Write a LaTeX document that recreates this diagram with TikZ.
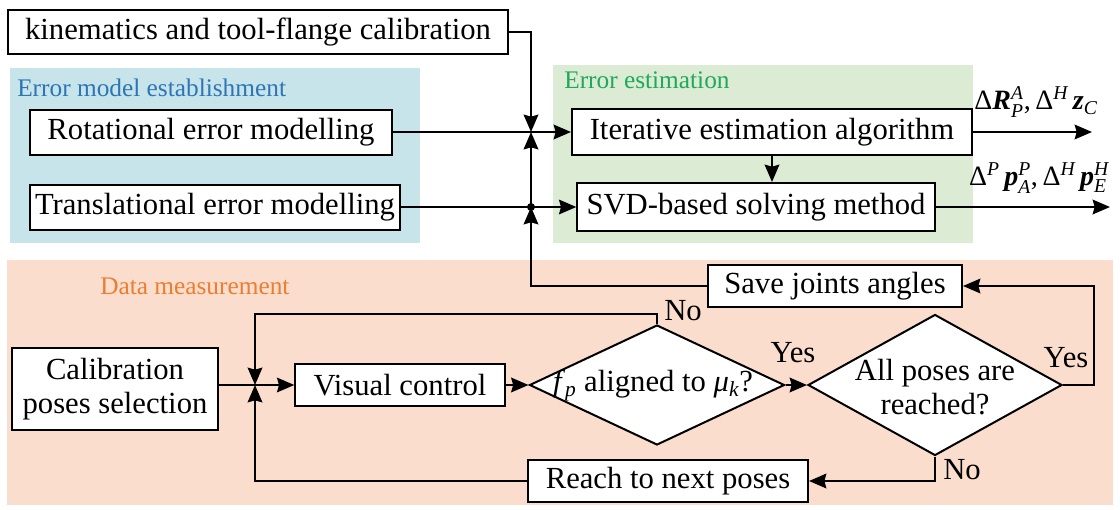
\documentclass[tikz,border=0pt]{standalone}
\usepackage{amsmath}
\usepackage{fontspec}
\setmainfont{Liberation Serif}
\newfontfamily\tms{Liberation Serif}
\usetikzlibrary{shapes.geometric,arrows.meta}
\definecolor{bluebg}{RGB}{198,228,233}
\definecolor{greenbg}{RGB}{220,235,212}
\definecolor{peachbg}{RGB}{250,221,204}
\definecolor{bluetxt}{RGB}{46,117,182}
\definecolor{greentxt}{RGB}{30,170,90}
\definecolor{orangetxt}{RGB}{237,125,49}
\begin{document}
\begin{tikzpicture}[x=0.75pt,y=-0.75pt,
  box/.style={draw, line width=1.5pt, fill=white, inner sep=0pt, align=center, font=\tms\fontsize{23}{25.5}\selectfont},
  dia/.style={draw, diamond, line width=1.5pt, fill=white, inner sep=0pt},
  txt/.style={font=\tms\fontsize{23}{25.5}\selectfont, inner sep=0pt, align=center},
  grp/.style={font=\tms\fontsize{19}{22}\selectfont, inner sep=0pt, anchor=west},
  mlab/.style={font=\tms\fontsize{21}{24}\selectfont, inner sep=0pt},
  conn/.style={line width=1.5pt},
  arr/.style={conn, -{Stealth[length=13pt,width=11pt,inset=1.5pt]}},
]
\useasboundingbox (0,0) rectangle (1120,510);
% group backgrounds
\fill[bluebg] (10,68) rectangle (420,243);
\fill[greenbg] (553,65) rectangle (973,243);
\fill[peachbg] (7,260) rectangle (1113,505);
\node[grp, text=bluetxt] (gl1) at (17,88) {Error model establishment};
\node[grp, text=greentxt] (gl2) at (564,80) {Error estimation};
\node[grp, text=orangetxt] (gl3) at (100,286) {Data measurement};

% boxes
\node[box, minimum width=375pt, minimum height=33pt] (kin) at (258,32) {kinematics and tool-flange calibration};
\node[box, minimum width=271.5pt, minimum height=33.75pt] (rot) at (211,132) {Rotational error modelling};
\node[box, minimum width=277.5pt, minimum height=33.75pt] (trans) at (215,207) {Translational error modelling};
\node[box, minimum width=300pt, minimum height=35pt] (iter) at (772,132) {Iterative estimation algorithm};
\node[box, minimum width=268pt, minimum height=36pt] (svd) at (756,207) {SVD-based solving method};
\node[box, minimum width=190.5pt, minimum height=31.5pt] (save) at (835,286) {Save joints angles};
\node[box, minimum width=154pt, minimum height=61.5pt] (calib) at (115,389) {Calibration\\poses selection};
\node[box, minimum width=157pt, minimum height=31pt] (vis) at (400,385) {Visual control};
\node[box, minimum width=210pt, minimum height=32pt] (reach) at (668,481) {Reach to next poses};
\node[dia, minimum width=191.25pt, minimum height=90pt] (d1) at (657,385) {};
\node[txt] (d1t) at (653,385) {\textit{f}$_{\textit{p}}$ aligned to \textit{μ}$_{\textit{k}}$?};
\node[dia, minimum width=190.5pt, minimum height=105.75pt] (d2) at (935,385) {};
\node[txt] (d2t) at (935,387) {All poses are\\reached?};

% junctions
\coordinate (J1) at (531,132);
\coordinate (J2) at (531,207);
\coordinate (J3) at (255,385);
\coordinate (o1) at (1092,132);
\coordinate (o2) at (1110,207);

% top connectors
\draw[arr] (kin.east) -| (J1);
\draw[conn] (rot.east) -- (J1);
\draw[arr] (J1) -- (iter.west);
\draw[conn] (trans.east) -- (J2);
\draw[arr] (J2) -- (svd.west);
\draw[arr] (save.west) -| (J2);
\draw[arr] (J2) -- (J1);
\fill (J2) circle[radius=3pt];
\draw[arr] (iter.south) -- (iter.south |- svd.north);
\draw[arr] (iter.east) -- (o1);
\draw[arr] (svd.east) -- (o2);
\node[mlab] (lab1) at (1036,102) {Δ\textbf{\textit{R}}$^{\textit{A}}_{\textit{P}}$,\,Δ$^{\textit{H}}$\,\textbf{\textit{z}}$_{\textit{C}}$};
\node[mlab] (lab2) at (1039,178) {Δ$^{\textit{P}}$\,\textbf{\textit{p}}$^{\textit{P}}_{\textit{A}}$,\,Δ$^{\textit{H}}$\,\textbf{\textit{p}}$^{\textit{H}}_{\textit{E}}$};

% bottom connectors
\draw[conn] (calib.east |- J3) -- (J3);
\draw[arr] (J3) -- (vis.west);
\draw[arr] (d1.north) -- ++(0,-10) -| (J3);
\draw[arr] (reach.west) -| (J3);
\draw[arr] (vis.east) -- (d1.west);
\draw[arr] (d1.east) -- (d2.west);
\draw[arr] (d2.east) -- ++(31,0) |- (save.east);
\draw[arr] (d2.south) |- (reach.east);

\node[txt] (no1) at (683,311) {No};
\node[txt] (yes1) at (793,353) {Yes};
\node[txt] (yes2) at (1066,358) {Yes};
\node[txt] (no2) at (962,470) {No};
\end{tikzpicture}
\end{document}
